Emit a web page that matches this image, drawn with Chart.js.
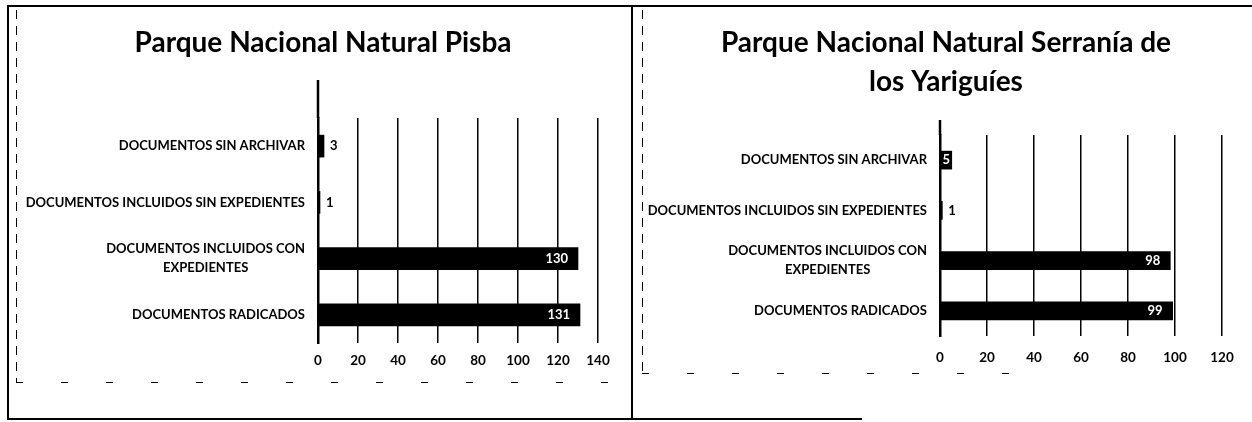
<!DOCTYPE html>
<html>
<head>
<meta charset="utf-8">
<script src="https://cdn.jsdelivr.net/npm/chart.js@4.4.1/dist/chart.umd.min.js"></script>
<style>
  html, body { margin: 0; padding: 0; background: #fff; }
  body { width: 1252px; height: 422px; position: relative; overflow: hidden; }
  .linea { position: absolute; background: #000; }
  .guion-v { position: absolute; width: 1px; background: repeating-linear-gradient(to bottom, #000 0 9px, transparent 9px 16px); }
  .guion-h { position: absolute; height: 1px; background: repeating-linear-gradient(to right, #000 0 7px, transparent 7px 45px); }
  .panel { position: absolute; top: 0; height: 422px; }
</style>
</head>
<body>
<!-- marco del documento escaneado -->
<div class="linea" style="left:7px;top:5px;width:2px;height:415px"></div>
<div class="linea" style="left:7px;top:5px;width:1245px;height:2px"></div>
<div class="linea" style="left:7px;top:418px;width:855px;height:2px"></div>
<div class="linea" style="left:631px;top:5px;width:2px;height:415px"></div>
<div class="guion-v" style="left:16px;top:10px;height:372px"></div>
<div class="guion-h" style="left:16px;top:382px;width:612px"></div>
<div class="guion-v" style="left:642px;top:10px;height:363px"></div>
<div class="guion-h" style="left:642px;top:373px;width:400px"></div>

<div class="panel" style="left:0;width:632px"><canvas id="graficoPisba"></canvas></div>
<div class="panel" style="left:632px;width:620px"><canvas id="graficoYariguies"></canvas></div>

<script>
const categorias = [
    'DOCUMENTOS SIN ARCHIVAR',
    'DOCUMENTOS INCLUIDOS SIN EXPEDIENTES',
    ['DOCUMENTOS INCLUIDOS CON', 'EXPEDIENTES'],
    'DOCUMENTOS RADICADOS'
];
const valoresPisba = [3, 1, 130, 131];
const valoresYariguies = [5, 1, 98, 99];
const ticksPisba = [0, 20, 40, 60, 80, 100, 120, 140];
const ticksYariguies = [0, 20, 40, 60, 80, 100, 120];

const fuente = 'Lato, "Open Sans", sans-serif';

// etiquetas del eje Y centradas por lineas (como Excel) + prolongacion del eje
const etiquetasEje = {
    id: 'etiquetasEje',
    afterDraw(chart, args, opts) {
        const ctx = chart.ctx;
        const escala = chart.scales.y;
        const area = chart.chartArea;
        ctx.save();
        ctx.font = 'bold 13px ' + fuente;
        ctx.fillStyle = '#000';
        ctx.textAlign = 'center';
        ctx.textBaseline = 'middle';
        const derecha = area.left - opts.separacion;
        chart.data.labels.forEach(function (lab, i) {
            const lineas = [].concat(lab);
            const ancho = Math.max.apply(null, lineas.map(l => ctx.measureText(l).width));
            const cy = escala.getPixelForTick(i);
            lineas.forEach(function (l, j) {
                ctx.fillText(l, derecha - ancho / 2, cy + (j - (lineas.length - 1) / 2) * opts.interlineado);
            });
        });
        ctx.strokeStyle = '#000';
        ctx.lineWidth = 2.5;
        ctx.beginPath();
        ctx.moveTo(area.left, opts.ejeArriba);
        ctx.lineTo(area.left, area.top);
        ctx.stroke();
        ctx.restore();
    }
};

// valores de cada barra
const valoresBarra = {
    id: 'valoresBarra',
    afterDatasetsDraw(chart) {
        const ctx = chart.ctx;
        const datos = chart.data.datasets[0].data;
        ctx.save();
        ctx.font = 'bold 13px ' + fuente;
        ctx.textBaseline = 'middle';
        chart.getDatasetMeta(0).data.forEach(function (barra, i) {
            const txt = String(datos[i]);
            const w = ctx.measureText(txt).width;
            const largo = barra.x - barra.base;
            if (largo >= w + 2) {
                ctx.fillStyle = '#fff';
                ctx.textAlign = 'right';
                ctx.fillText(txt, barra.x - Math.min(10, (largo - w) / 2), barra.y);
            } else {
                ctx.fillStyle = '#000';
                ctx.textAlign = 'left';
                ctx.fillText(txt, barra.x + 6, barra.y);
            }
        });
        ctx.restore();
    }
};

function crearGrafico(id, titulo, valores, ticks, cfg) {
    new Chart(document.getElementById(id), {
        type: 'bar',
        data: {
            labels: categorias,
            datasets: [{
                data: valores,
                backgroundColor: '#000',
                borderWidth: 0,
                barThickness: cfg.grosor
            }]
        },
        options: {
            indexAxis: 'y',
            responsive: true,
            maintainAspectRatio: false,
            animation: false,
            layout: {
                padding: { left: cfg.izq, right: cfg.der, top: 0, bottom: cfg.abajo }
            },
            scales: {
                x: {
                    min: ticks[0],
                    max: ticks[ticks.length - 1],
                    ticks: {
                        stepSize: ticks[1] - ticks[0],
                        color: '#000',
                        padding: cfg.pad,
                        font: { family: fuente, size: 13.5, weight: 'bold' }
                    },
                    grid: { color: '#000', lineWidth: 1.5, drawTicks: false },
                    border: { display: false },
                    afterFit: function (s) { s.height = 30; }
                },
                y: {
                    ticks: { display: false },
                    grid: { display: false },
                    border: { color: '#000', width: 2.5 },
                    afterFit: function (s) { s.width = 270; }
                }
            },
            plugins: {
                legend: { display: false },
                tooltip: { enabled: false },
                title: {
                    display: true,
                    text: titulo,
                    color: '#000',
                    font: { family: fuente, size: 28, weight: 'bold', lineHeight: cfg.interTitulo },
                    padding: { top: cfg.tituloArriba, bottom: cfg.tituloAbajo }
                },
                etiquetasEje: { separacion: 13, interlineado: 19, ejeArriba: cfg.ejeArriba }
            }
        },
        plugins: [etiquetasEje, valoresBarra]
    });
}

document.addEventListener("DOMContentLoaded", function () {

    // GRAFICO PISBA
    crearGrafico('graficoPisba', 'Parque Nacional Natural Pisba', valoresPisba, ticksPisba, {
        izq: 48, der: 34, abajo: 49, pad: 10, grosor: 22,
        interTitulo: 1.2, tituloArriba: 26.2, tituloAbajo: 58.2, ejeArriba: 80
    });

    // GRAFICO SERRANIA DE LOS YARIGUIES
    crearGrafico('graficoYariguies', ['Parque Nacional Natural Serranía de', 'los Yariguíes'], valoresYariguies, ticksYariguies, {
        izq: 38, der: 30, abajo: 56, pad: 14, grosor: 18,
        interTitulo: 1.393, tituloArriba: 23.5, tituloAbajo: 33.5, ejeArriba: 120
    });

});
</script>
</body>
</html>
